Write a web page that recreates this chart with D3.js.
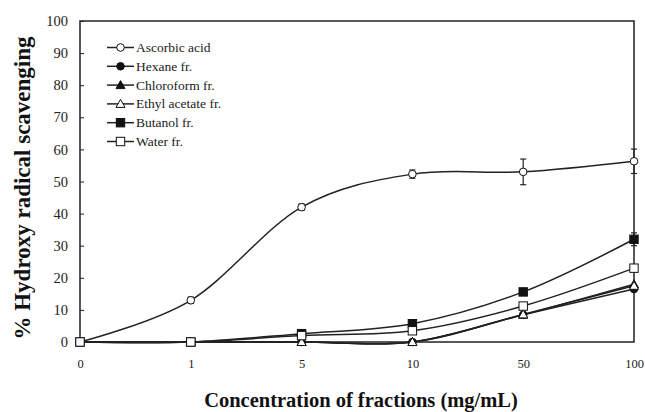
<!DOCTYPE html>
<html lang="en">
  <head>
    <meta charset="UTF-8" />
    <title>Hydroxy radical scavenging</title>
    <style>
      body { margin: 0; background: #fff; }
      svg { display: block; }
      svg text { font-family: 'Liberation Serif', 'Times New Roman', serif; }
    </style>
  </head>
  <body>
    <svg id="svg" width="645" height="412"></svg>

    <script src="https://d3js.org/d3.v7.min.js"></script>
    <script>
      // concentrations (mg/mL), shown as equally spaced categories
      const concentrations = ['0', '1', '5', '10', '50', '100'];
      const yTicks = [0, 10, 20, 30, 40, 50, 60, 70, 80, 90, 100];

      const seriesNames = ['Ascorbic acid', 'Hexane fr.', 'Chloroform fr.', 'Ethyl acetate fr.', 'Butanol fr.', 'Water fr.'];
      const ascorbic = [0, 13, 42, 52.3, 53, 56.3];
      const ascorbicErr = [0, 1, 1, 1.3, 4, 3.8];
      const hexane = [0, 0, 0, 0, 8.5, 16.5];
      const chloroform = [0, 0, 0, 0, 8.5, 18];
      const ethylAcetate = [0, 0, 0, 0, 8.6, 17.5];
      const butanol = [0, 0, 2.6, 5.7, 15.6, 32];
      const butanolErr = [0, 0, 0, 0, 0, 2];
      const water = [0, 0, 2, 3.5, 11.2, 23];

      const series = [
        { name: seriesNames[0], values: ascorbic, err: ascorbicErr, marker: 'circle', filled: false },
        { name: seriesNames[1], values: hexane, err: null, marker: 'circle', filled: true },
        { name: seriesNames[2], values: chloroform, err: null, marker: 'triangle', filled: true },
        { name: seriesNames[3], values: ethylAcetate, err: null, marker: 'triangle', filled: false },
        { name: seriesNames[4], values: butanol, err: butanolErr, marker: 'square', filled: true },
        { name: seriesNames[5], values: water, err: null, marker: 'square', filled: false }
      ];

      const m = { left: 80, right: 634, top: 21, bottom: 342 };
      const svg = d3.select('#svg');

      const x = d3.scalePoint().domain(concentrations).range([m.left, m.right]);
      const y = d3.scaleLinear().domain([0, 100]).range([m.bottom, m.top]);

      // frame
      svg.append('rect')
        .attr('x', m.left).attr('y', m.top)
        .attr('width', m.right - m.left).attr('height', m.bottom - m.top)
        .attr('fill', 'none').attr('stroke', '#222').attr('stroke-width', 1.5);

      // y axis
      const yAxis = svg.append('g')
        .attr('transform', `translate(${m.left},0)`)
        .call(d3.axisLeft(y).tickValues(yTicks).tickSize(4).tickPadding(8));
      yAxis.select('.domain').remove();
      yAxis.selectAll('line').attr('stroke', '#222').attr('transform', 'translate(4,0)');
      yAxis.selectAll('text').attr('fill', '#222')
        .style('font-size', '14.5px').style('font-family', "'Liberation Serif', serif");

      // x axis
      const xAxis = svg.append('g')
        .attr('transform', `translate(0,${m.bottom})`)
        .call(d3.axisBottom(x).tickSize(0).tickPadding(17));
      xAxis.select('.domain').remove();
      xAxis.selectAll('text').attr('fill', '#222')
        .style('font-size', '12.5px').style('font-family', "'Liberation Serif', serif");

      // axis titles
      svg.append('text')
        .attr('x', 361).attr('y', 407)
        .attr('text-anchor', 'middle')
        .attr('font-weight', 'bold').attr('fill', '#111')
        .style('font-size', '20.5px')
        .text('Concentration of fractions (mg/mL)');
      svg.append('text')
        .attr('transform', 'translate(30,188) rotate(-90)')
        .attr('text-anchor', 'middle')
        .attr('font-weight', 'bold').attr('fill', '#111')
        .style('font-size', '23px')
        .text('% Hydroxy radical scavenging');

      const line = d3.line()
        .x((d, i) => x(concentrations[i]))
        .y((d) => y(d))
        .curve(d3.curveCardinal.tension(0));

      function drawMarker(g, type, filled, cx, cy) {
        const fill = filled ? '#111' : '#fff';
        if (type === 'circle') {
          g.append('circle').attr('cx', cx).attr('cy', cy).attr('r', 3.8)
            .attr('fill', fill).attr('stroke', '#111').attr('stroke-width', 1);
        } else if (type === 'square') {
          g.append('rect').attr('x', cx - 4.2).attr('y', cy - 4.2).attr('width', 8.4).attr('height', 8.4)
            .attr('fill', fill).attr('stroke', '#111').attr('stroke-width', 1);
        } else {
          g.append('path')
            .attr('d', `M${cx},${cy - 4.5}L${cx + 4.5},${cy + 3.5}L${cx - 4.5},${cy + 3.5}Z`)
            .attr('fill', fill).attr('stroke', '#111').attr('stroke-width', 1);
        }
      }

      const plot = svg.append('g');
      series.forEach((s) => {
        plot.append('path')
          .attr('d', line(s.values))
          .attr('fill', 'none').attr('stroke', '#222').attr('stroke-width', 1.5);
      });
      series.forEach((s) => {
        const g = plot.append('g');
        s.values.forEach((v, i) => {
          const cx = x(concentrations[i]);
          if (s.err && s.err[i] > 0) {
            const y0 = y(v - s.err[i]), y1 = y(v + s.err[i]);
            g.append('line').attr('x1', cx).attr('x2', cx).attr('y1', y0).attr('y2', y1)
              .attr('stroke', '#222').attr('stroke-width', 1.2);
            [y0, y1].forEach((yy) => {
              g.append('line').attr('x1', cx - 3).attr('x2', cx + 3).attr('y1', yy).attr('y2', yy)
                .attr('stroke', '#222').attr('stroke-width', 1.2);
            });
          }
          drawMarker(g, s.marker, s.filled, cx, y(v));
        });
      });

      // legend
      const legend = svg.append('g');
      series.forEach((s, i) => {
        const ly = 47.5 + i * 18.8;
        legend.append('line').attr('x1', 107).attr('x2', 134).attr('y1', ly).attr('y2', ly)
          .attr('stroke', '#222').attr('stroke-width', 1.5);
        drawMarker(legend, s.marker, s.filled, 120.5, ly);
        legend.append('text')
          .attr('x', 136).attr('y', ly + 4.5)
          .attr('fill', '#222')
          .style('font-size', '13.5px')
          .text(s.name);
      });
    </script>
  </body>
</html>
